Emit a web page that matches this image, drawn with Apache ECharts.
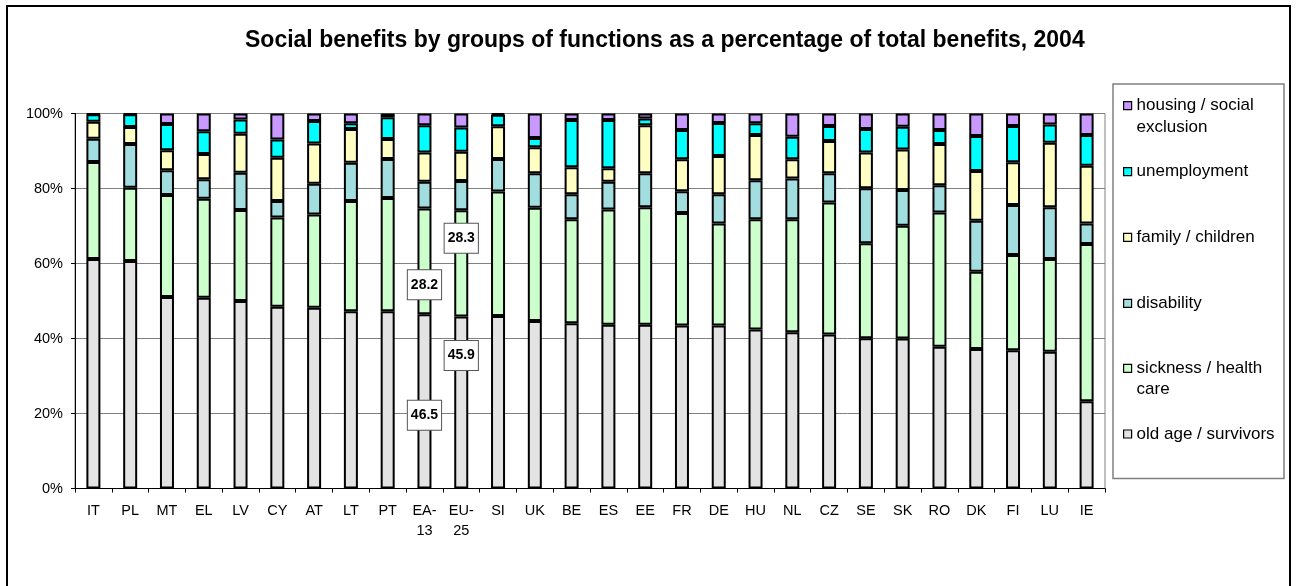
<!DOCTYPE html>
<html>
<head>
<meta charset="utf-8">
<script src="https://cdn.jsdelivr.net/npm/echarts@6/dist/echarts.min.js"></script>
<style>html,body{margin:0;padding:0;background:#fff}#chart{width:1297px;height:586px}</style>
</head>
<body>
<div id="chart"></div>
<script>
const categories = ['IT','PL','MT','EL','LV','CY','AT','LT','PT','EA-\n13','EU-\n25','SI','UK','BE','ES','EE','FR','DE','HU','NL','CZ','SE','SK','RO','DK','FI','LU','IE'];
const oldAge       = [61.2,60.7,51.1,50.9,50.0,48.5,48.2,47.3,47.3,46.5,45.9,46.0,44.7,44.1,43.7,43.7,43.5,43.5,42.4,41.7,41.1,40.1,40.0,37.8,37.2,36.9,36.5,23.3];
const sickness     = [25.9,19.5,27.2,26.4,24.3,23.8,24.9,29.4,30.2,28.2,28.3,33.2,30.2,27.7,30.7,31.3,30.0,27.2,29.4,30.1,35.2,25.3,30.1,35.8,20.6,25.4,24.7,41.9];
const disability   = [6.2,11.7,6.6,5.2,9.9,4.4,8.2,10.2,10.4,7.1,7.8,8.7,9.2,6.7,7.4,9.1,5.8,7.8,10.4,10.9,7.8,14.7,9.5,7.3,13.6,13.3,13.8,5.5];
const family       = [4.5,4.5,5.3,6.7,10.4,11.5,10.7,9.0,5.3,7.8,7.8,8.7,6.9,7.2,3.6,12.8,8.5,10.2,12.1,5.1,8.6,9.5,10.8,11.0,13.3,11.4,17.2,15.4];
const unemployment = [2.0,3.4,7.0,6.1,3.8,4.9,6.0,1.5,5.8,7.3,6.5,3.1,2.5,12.6,12.9,1.8,7.8,8.8,3.1,6.0,4.0,6.3,6.1,3.7,9.3,9.7,4.9,8.2];
const housing      = [0.2,0.2,2.8,4.7,1.6,6.9,2.0,2.6,1.0,3.1,3.7,0.3,6.5,1.7,1.7,1.3,4.4,2.5,2.6,6.2,3.3,4.1,3.5,4.4,6.0,3.3,2.9,5.7];
const seriesNames  = ['old age / survivors','sickness / health care','disability','family / children','unemployment','housing / social exclusion'];
const legendLabels = ['old age / survivors','sickness / health\ncare','disability','family / children','unemployment','housing / social\nexclusion'];
const yTicks = [0,20,40,60,80,100];

const colors = ['#E3E3E3','#CCFFCC','#A2DEDF','#FFFFC4','#00FFFF','#C899FF'];
const FONT = 'Liberation Sans, Arial, sans-serif';
const values = [oldAge, sickness, disability, family, unemployment, housing];

// highlighted labels: [seriesIndex, categoryIndex, offsetY]
const labelled = [[0,9,14],[1,9,23.5],[0,10,-47],[1,10,-25]];

const series = values.map((arr, si) => ({
  name: seriesNames[si],
  type: 'bar',
  stack: 'total',
  barWidth: 14,
  itemStyle: {color: colors[si], borderColor: '#000', borderWidth: 2},
  emphasis: {disabled: true},
  data: arr.map((v, ci) => {
    const l = labelled.find(a => a[0] === si && a[1] === ci);
    if (!l) return v;
    return {value: v, label: {
      show: true, position: 'inside', offset: [0, l[2]], formatter: '{c}',
      color: '#000', fontFamily: FONT, fontWeight: 'bold', fontSize: 14,
      backgroundColor: '#fff', borderColor: '#555', borderWidth: 1, padding: [8, 3, 7, 3]
    }};
  })
}));

const legendCenters = [434, 368.3, 303.3, 237.3, 171.7, 105.7];
const LH = 21.5;
const legends = seriesNames.map((n, i) => {
  const twoLine = legendLabels[i].indexOf('\n') >= 0;
  return {
    left: 1123,
    top: legendCenters[i] - (twoLine ? 1.5 * LH : LH / 2),
    orient: 'vertical',
    padding: 0,
    itemWidth: 8, itemHeight: 8, itemGap: 0,
    icon: 'rect',
    selectedMode: false,
    itemStyle: {borderColor: '#000', borderWidth: 1.2},
    textStyle: {fontFamily: FONT, fontSize: 17, color: '#000', lineHeight: LH},
    // a leading blank line keeps the marker level with the first text line
    formatter: () => (twoLine ? ' \n' : '') + legendLabels[i],
    data: [n]
  };
});

const chart = echarts.init(document.getElementById('chart'), null, {renderer: 'canvas'});
chart.setOption({
  animation: false,
  backgroundColor: '#fff',
  title: {
    text: 'Social benefits by groups of functions as a percentage of total benefits, 2004',
    left: 240, top: 24,
    textStyle: {fontFamily: FONT, fontSize: 23, fontWeight: 'bold', color: '#000'}
  },
  graphic: [
    {type: 'rect', shape: {x: 7, y: 6, width: 1283, height: 600}, style: {fill: 'none', stroke: '#000', lineWidth: 2}, silent: true},
    {type: 'rect', shape: {x: 1113, y: 84, width: 171, height: 394.5}, style: {fill: '#fff', stroke: '#808080', lineWidth: 1.5}, silent: true}
  ],
  legend: legends,
  grid: {left: 75, right: 192, top: 113.5, bottom: 97.5, show: true, borderColor: '#808080', borderWidth: 1, backgroundColor: 'transparent'},
  xAxis: {
    type: 'category', data: categories,
    axisLine: {lineStyle: {color: '#000', width: 1}},
    axisTick: {show: true, inside: false, length: 4, lineStyle: {color: '#000'}},
    axisLabel: {interval: 0, fontFamily: FONT, fontSize: 14.5, color: '#000', margin: 12, lineHeight: 20}
  },
  yAxis: {
    type: 'value', min: yTicks[0], max: yTicks[yTicks.length - 1], interval: 20,
    axisLine: {show: true, lineStyle: {color: '#000', width: 1}},
    axisTick: {show: true, length: 4, lineStyle: {color: '#000'}},
    axisLabel: {fontFamily: FONT, fontSize: 14.5, color: '#000', margin: 12, formatter: '{value}%'},
    splitLine: {show: true, lineStyle: {color: '#808080', width: 1}}
  },
  series: series
});
</script>
</body>
</html>
